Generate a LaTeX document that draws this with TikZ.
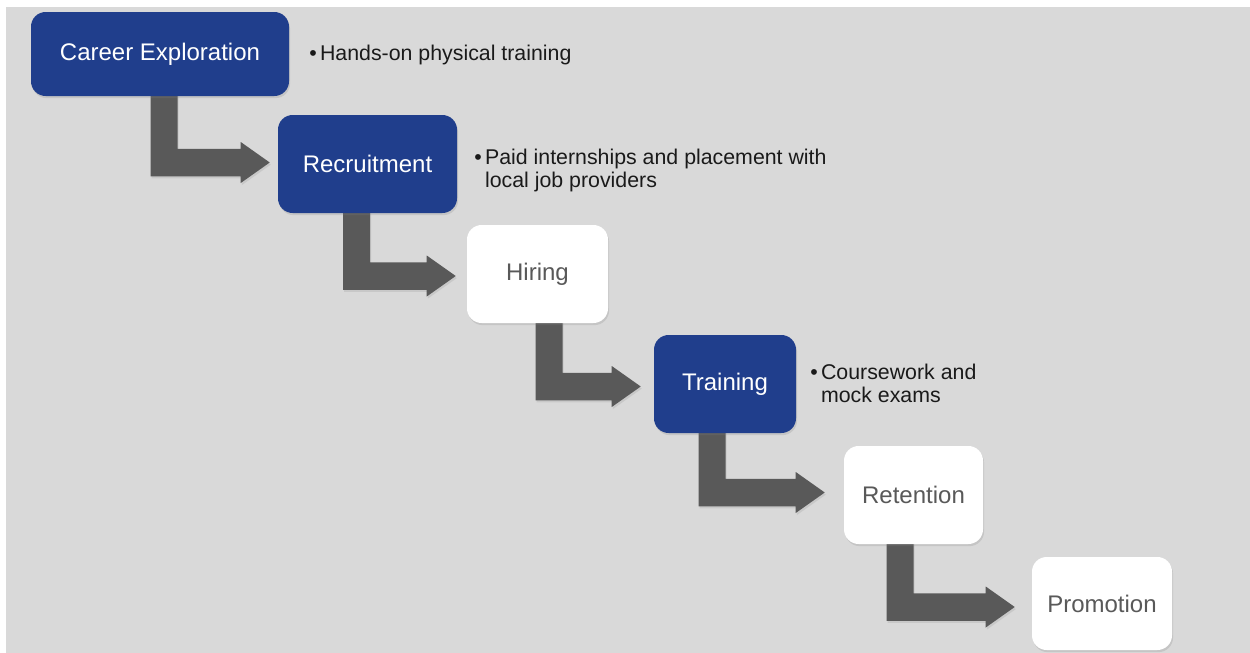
\documentclass[tikz,border=0pt]{standalone}
\usepackage{fontspec}
\setmainfont{Liberation Sans}
\usetikzlibrary{calc,shadows}
\definecolor{bgray}{HTML}{D9D9D9}
\definecolor{navy}{RGB}{32,62,140}
\definecolor{arrowgray}{HTML}{595959}
\definecolor{txtgray}{HTML}{595959}
\definecolor{notetext}{HTML}{1A1A1A}
\pgfdeclarelayer{bg}
\pgfdeclarelayer{arr}
\pgfsetlayers{bg,arr,main}
\tikzset{
  stage/.style={rectangle, rounded corners=11pt, inner sep=0pt,
    font=\fontsize{18}{21}\selectfont,
    drop shadow={opacity=0.22, shadow xshift=0.8pt, shadow yshift=-1.6pt}},
  bluestage/.style={stage, fill=navy, text=white},
  whitestage/.style={stage, fill=white, text=txtgray},
  note/.style={anchor=west, inner sep=0pt, text=notetext,
    font=\fontsize{16}{17.25}\selectfont},
  arrowfill/.style={fill=arrowgray,
    drop shadow={opacity=0.18, shadow xshift=0.8pt, shadow yshift=-1.6pt}}
}
% #1 from node, #2 to node, #3 stem x offset, #4 tip shift
\newcommand\bentarrow[4]{%
  \coordinate (#1-s) at ($(#1.south)+(#3,-6)$);
  \coordinate (#2-t) at ($(#2.west)+(#4)$);
  \begin{pgfonlayer}{arr}
  \fill[arrowfill] ($(#2-t)+(-29,13.75)$) -| ($(#1-s)+(-13.5,0)$)
    -- ($(#1-s)+(13.5,0)$) |- ($(#2-t)+(-29,-13.75)$)
    -- ($(#2-t)+(-29,-20.5)$) -- (#2-t) -- ($(#2-t)+(-29,20.5)$) -- cycle;
  \end{pgfonlayer}}
\newcommand\bul[1]{\begin{tabular}{@{}l@{\hspace{2.5pt}}l@{}}#1\end{tabular}}
\begin{document}
\begin{tikzpicture}[x=0.75pt,y=-0.75pt]
\useasboundingbox (0,0) rectangle (1250,653);
\begin{pgfonlayer}{bg}
\fill[white] (0,0) rectangle (1250,653);
\fill[bgray] (6,7) rectangle (1250,653);
\end{pgfonlayer}

\node[bluestage, minimum width=193.5pt, minimum height=63pt] (career) at (160,54) {Career Exploration};
\node[bluestage, minimum width=134.25pt, minimum height=73.5pt] (recruit) at (367.5,164) {Recruitment};
\node[whitestage, minimum width=105.75pt, minimum height=73.5pt] (hiring) at (537.5,274) {Hiring};
\node[bluestage, minimum width=106.5pt, minimum height=73.5pt] (training) at (725,384) {Training};
\node[whitestage, minimum width=104.25pt, minimum height=73.5pt] (retention) at (913.5,495) {Retention};
\node[whitestage, minimum width=105pt, minimum height=69.75pt] (promotion) at (1102,603.5) {Promotion};

\node[note] (n1) at (309,56) {\bul{\textbullet & Hands-on physical training}};
\node[note] (n2) at (474,171.5) {\bul{\textbullet & Paid internships and placement with\\ & local job providers}};
\node[note] (n3) at (810,386.5) {\bul{\textbullet & Coursework and\\ & mock exams}};

\bentarrow{career}{recruit}{4}{-8,-1.5}
\bentarrow{recruit}{hiring}{-11}{-11,2}
\bentarrow{hiring}{training}{11.5}{-13,2.5}
\bentarrow{training}{retention}{-13}{-19,-2.5}
\bentarrow{retention}{promotion}{-13.5}{-17,3.5}
\end{tikzpicture}
\end{document}
